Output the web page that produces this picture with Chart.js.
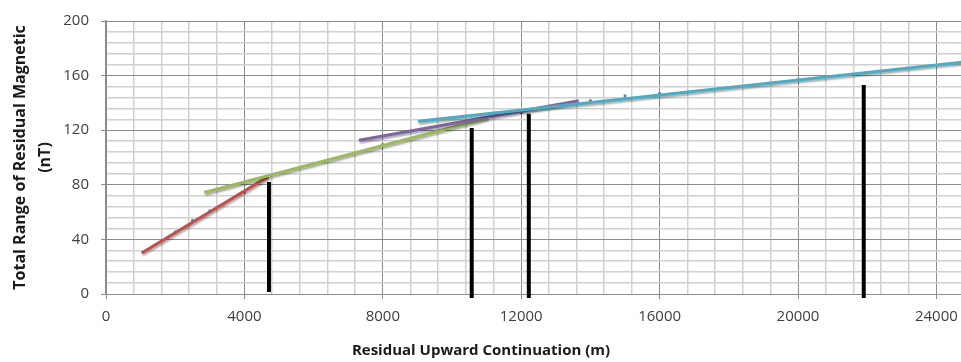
<!DOCTYPE html>
<html>
<head>
<meta charset="utf-8">
<script src="https://cdn.jsdelivr.net/npm/chart.js@4/dist/chart.umd.min.js"></script>
<style>
html,body{margin:0;padding:0;background:#fff;overflow:hidden;}
#wrap{width:961px;height:362px;overflow:hidden;position:relative;}
canvas{display:block;}
</style>
</head>
<body>
<div id="wrap"><canvas id="c" width="975" height="362"></canvas></div>
<script>
// Raw observations (small blue markers)
const rawX = [2000, 2500, 3000, 4000, 6000, 8000, 12000, 14000, 15000, 16000, 20000];
const rawY = [45.5, 54, 61, 74.5, 95.8, 109.6, 133, 141.7, 145.2, 147.1, 157];

// Linear trend segments (start/end)
const redX = [1030, 4690];     const redY = [30, 86];
const greenX = [2840, 11030];  const greenY = [74.4, 129];
const purpleX = [7310, 13660]; const purpleY = [112.7, 141.6];
const cyanX = [9020, 25000];   const cyanY = [126.5, 170.6];

// Black vertical markers
const barX = [4710, 10570, 12220, 21900];
const barTop = [82, 121.7, 132.1, 153.2];
const barBottom = [1.5, -3, -3, -3];

// Axis tick labels (major) and minor grid steps
const xTickLabels = [0, 4000, 8000, 12000, 16000, 20000, 24000];
const yTickLabels = [0, 40, 80, 120, 160, 200];
const xMinorStep = 800;
const yMinorStep = 8;

const xTitle = 'Residual Upward Continuation (m)';
const yTitle = ['Total Range of Residual Magnetic', '(nT)'];

const pts = (xs, ys) => xs.map((x, i) => ({x: x, y: ys[i]}));

const datasets = [];
barX.forEach((x, i) => {
  datasets.push({
    data: [{x: x, y: barBottom[i]}, {x: x, y: barTop[i]}],
    showLine: true, borderColor: '#000', borderWidth: 4, pointRadius: 0,
    borderCapStyle: 'butt', clip: false
  });
});
[[cyanX, cyanY, '#4bacc6'], [purpleX, purpleY, '#8064a2'], [greenX, greenY, '#9bbb59'], [redX, redY, '#c0504d']]
  .forEach(([xs, ys, col]) => {
    datasets.push({data: pts(xs, ys), showLine: true, borderColor: col, borderWidth: 3, pointRadius: 0, trend: true});
  });
datasets.push({data: pts(rawX, rawY), showLine: false, pointRadius: 1.5, backgroundColor: '#4f81bd', borderColor: '#4f81bd', borderWidth: 0});

const shadowPlugin = {
  id: 'shadow',
  beforeDatasetDraw(chart, args) {
    const ds = chart.data.datasets[args.index];
    if (ds.trend) {
      const ctx = chart.ctx;
      ctx.save();
      ctx.shadowColor = 'rgba(0,0,0,0.35)';
      ctx.shadowOffsetY = 2; ctx.shadowOffsetX = 1; ctx.shadowBlur = 2;
    }
  },
  afterDatasetDraw(chart, args) {
    const ds = chart.data.datasets[args.index];
    if (ds.trend) chart.ctx.restore();
  }
};

const xTitlePlugin = {
  id: 'xtitle',
  afterDraw(chart) {
    const ctx = chart.ctx;
    ctx.save();
    ctx.font = 'bold 15px "Open Sans"';
    ctx.fillStyle = '#1a1a1a';
    ctx.textAlign = 'center';
    ctx.textBaseline = 'middle';
    ctx.fillText(xTitle, 481, 351);
    ctx.restore();
  }
};

const isMajor = (labels, v) => labels.some(l => Math.abs(l - v) < 1e-6);
const minorTicks = (max, step) => {
  const t = [];
  for (let v = 0; v <= max + 1e-9; v += step) t.push({value: v});
  return t;
};

new Chart(document.getElementById('c'), {
  type: 'scatter',
  data: {datasets: datasets},
  plugins: [shadowPlugin, xTitlePlugin],
  options: {
    responsive: false,
    animation: false,
    devicePixelRatio: 1,
    layout: {padding: {top: 19, right: 3, left: 0, bottom: 0}},
    plugins: {legend: {display: false}, tooltip: {enabled: false}},
    scales: {
      x: {
        type: 'linear', min: 0, max: 25000,
        afterFit: s => { s.height = 68; },
        afterBuildTicks: s => { s.ticks = minorTicks(25000, xMinorStep); },
        ticks: {
          autoSkip: false, maxRotation: 0, padding: 9,
          color: '#404040', font: {family: 'Open Sans', size: 15},
          callback: v => isMajor(xTickLabels, v) ? String(v) : ''
        },
        grid: {
          color: c => (c.tick && isMajor(xTickLabels, c.tick.value)) ? '#8c8c8c' : '#d0d0d0',
          lineWidth: c => (c.tick && isMajor(xTickLabels, c.tick.value)) ? 1 : 1.5,
          tickLength: 5,
          tickColor: c => (c.tick && isMajor(xTickLabels, c.tick.value)) ? '#8c8c8c' : 'rgba(0,0,0,0)'
        },
        border: {color: '#8c8c8c', width: 1}
      },
      y: {
        type: 'linear', min: 0, max: 200,
        afterFit: s => { s.width = 106; },
        afterBuildTicks: s => { s.ticks = minorTicks(200, yMinorStep); },
        ticks: {
          autoSkip: false, padding: 12,
          color: '#404040', font: {family: 'Open Sans', size: 15},
          callback: v => isMajor(yTickLabels, v) ? String(v) : ''
        },
        grid: {
          color: c => (c.tick && isMajor(yTickLabels, c.tick.value)) ? '#8c8c8c' : '#d0d0d0',
          lineWidth: c => (c.tick && isMajor(yTickLabels, c.tick.value)) ? 1 : 1.5,
          tickLength: 5,
          tickColor: c => (c.tick && isMajor(yTickLabels, c.tick.value)) ? '#8c8c8c' : 'rgba(0,0,0,0)'
        },
        border: {color: '#8c8c8c', width: 1.5},
        title: {
          display: true, text: yTitle, color: '#1a1a1a',
          font: {family: 'Open Sans', size: 16, weight: 'bold', lineHeight: 1.55},
          padding: {top: 8, bottom: 0}
        }
      }
    }
  }
});
</script>
</body>
</html>
